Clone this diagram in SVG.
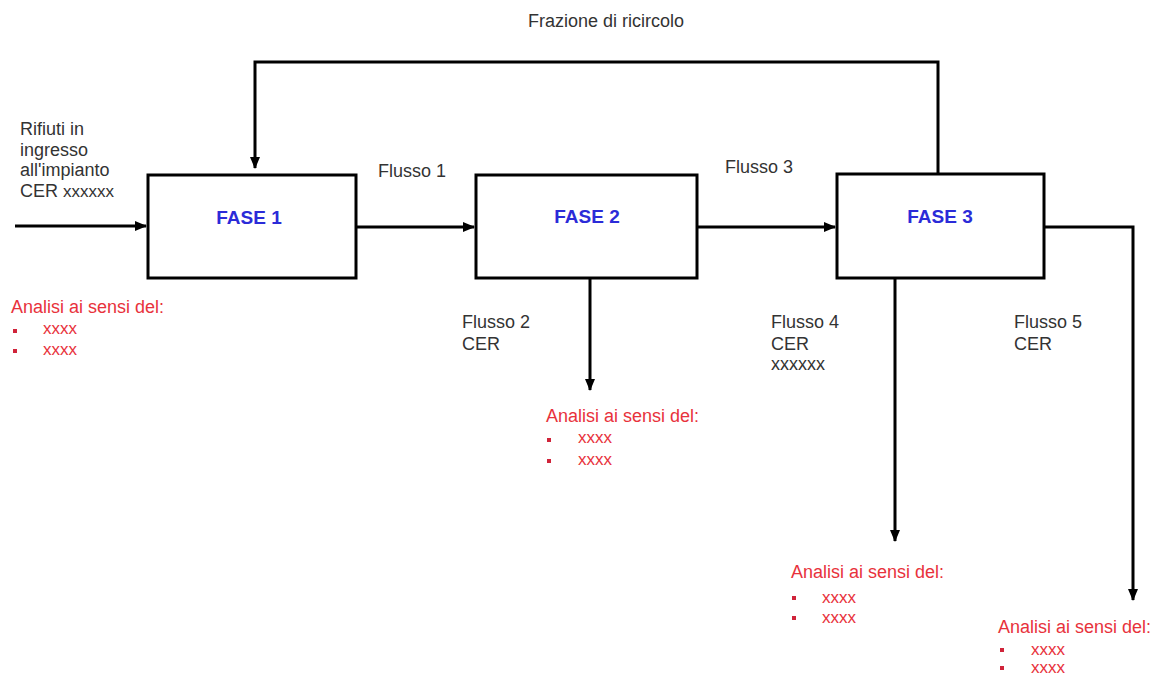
<svg xmlns="http://www.w3.org/2000/svg" width="1164" height="677" viewBox="0 0 1164 677">
<defs>
<marker id="ah" markerWidth="12" markerHeight="10" refX="11" refY="5" orient="auto" markerUnits="userSpaceOnUse">
<path d="M0,0 L12,5 L0,10 z" fill="#000"/>
</marker>
<style>
.box{fill:#fff;stroke:#000;stroke-width:3}
.ln{fill:none;stroke:#000;stroke-width:3}
.t{font-family:"Liberation Sans",Arial,sans-serif;font-size:18px;fill:#333}
.f{font-family:"Liberation Sans",Arial,sans-serif;font-size:19px;font-weight:bold;fill:#2b2bd8;text-anchor:middle}
.r{font-family:"Liberation Sans",Arial,sans-serif;font-size:18px;fill:#e8323c}
.rs{font-family:"Liberation Sans",Arial,sans-serif;font-size:17px;fill:#e8323c}
.b{fill:#d0243a}
</style>
</defs>
<rect width="1164" height="677" fill="#fff"/>
<g id="connectors">
<path class="ln" d="M15,226 H146" marker-end="url(#ah)"/>
<path class="ln" d="M357,227 H474" marker-end="url(#ah)"/>
<path class="ln" d="M697,227 H835" marker-end="url(#ah)"/>
<path class="ln" d="M590,278 V390" marker-end="url(#ah)"/>
<path class="ln" d="M895,278 V541" marker-end="url(#ah)"/>
<path class="ln" d="M1044,227 H1133 V600" marker-end="url(#ah)"/>
<path class="ln" d="M938,174 V62 H255 V168" marker-end="url(#ah)"/>
</g>
<g id="fase1"><rect class="box" x="148" y="175" width="208" height="103"/><text class="f" x="249" y="224">FASE 1</text></g>
<g id="fase2"><rect class="box" x="476" y="175" width="221" height="103"/><text class="f" x="587" y="223">FASE 2</text></g>
<g id="fase3"><rect class="box" x="837" y="174" width="207" height="104"/><text class="f" x="940" y="223">FASE 3</text></g>
<g id="labels">
<text class="t" x="606" y="27" text-anchor="middle">Frazione di ricircolo</text>
<text class="t" x="20" y="135">Rifiuti in</text>
<text class="t" x="20" y="156">ingresso</text>
<text class="t" x="20" y="176">all'impianto</text>
<text class="t" x="20" y="197">CER <tspan font-size="17">xxxxxx</tspan></text>
<text class="t" x="378" y="177">Flusso 1</text>
<text class="t" x="725" y="173">Flusso 3</text>
<text class="t" x="462" y="328">Flusso 2</text>
<text class="t" x="462" y="350">CER</text>
<text class="t" x="771" y="328">Flusso 4</text>
<text class="t" x="771" y="350">CER</text>
<text class="t" x="771" y="370" font-size="17">xxxxxx</text>
<text class="t" x="1014" y="328">Flusso 5</text>
<text class="t" x="1014" y="350">CER</text>
</g>
<g id="analisi1">
<text class="r" x="11" y="313">Analisi ai sensi del:</text>
<rect class="b" x="13" y="329" width="4" height="4"/><text class="rs" x="43" y="334">xxxx</text>
<rect class="b" x="13" y="349" width="4" height="4"/><text class="rs" x="43" y="355">xxxx</text>
</g>
<g id="analisi2">
<text class="r" x="546" y="422">Analisi ai sensi del:</text>
<rect class="b" x="547" y="438" width="4" height="4"/><text class="rs" x="578" y="443">xxxx</text>
<rect class="b" x="547" y="459" width="4" height="4"/><text class="rs" x="578" y="465">xxxx</text>
</g>
<g id="analisi3">
<text class="r" x="791" y="578">Analisi ai sensi del:</text>
<rect class="b" x="792" y="596" width="4" height="4"/><text class="rs" x="822" y="603">xxxx</text>
<rect class="b" x="792" y="616" width="4" height="4"/><text class="rs" x="822" y="623">xxxx</text>
</g>
<g id="analisi4">
<text class="r" x="998" y="633">Analisi ai sensi del:</text>
<rect class="b" x="1000" y="648" width="4" height="4"/><text class="rs" x="1031" y="655">xxxx</text>
<rect class="b" x="1000" y="666" width="4" height="4"/><text class="rs" x="1031" y="673">xxxx</text>
</g>
</svg>
